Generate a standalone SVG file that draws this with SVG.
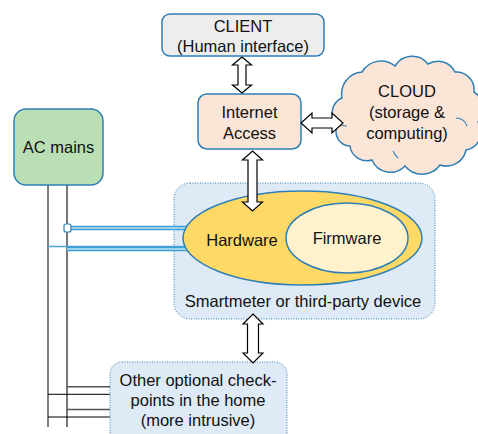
<svg xmlns="http://www.w3.org/2000/svg" width="478" height="434" viewBox="0 0 478 434">
<style>
text{font-family:"Liberation Sans",Arial,sans-serif;font-size:16.5px;fill:#111;text-anchor:middle}
.box{stroke:#2f7fb5;stroke-width:1.5}
.dot{stroke:#2f7fb5;stroke-width:1;stroke-dasharray:1 1.5}
.arr{fill:#fff;stroke:#000;stroke-width:1.2;stroke-linejoin:miter}
.blk{stroke:#000;stroke-width:1;fill:none}
.gry{stroke:#555;stroke-width:1.6;fill:none}
.wire{stroke:#3a9fd6;stroke-width:4.5;fill:none}
.wirein{stroke:#bfe3f5;stroke-width:1.5;fill:none}
</style>
<rect width="478" height="434" fill="#fff"/>

<g id="connectors">
  <line class="blk" x1="48" y1="185" x2="48" y2="427"/>
  <line class="gry" x1="67" y1="185" x2="67" y2="427"/>
  <line class="gry" x1="67" y1="386.7" x2="110" y2="386.7"/>
  <line class="blk" x1="48" y1="394.3" x2="110" y2="394.3"/>
  <line class="gry" x1="67" y1="409.5" x2="110" y2="409.5"/>
  <line class="blk" x1="48" y1="417" x2="110" y2="417"/>
</g>

<g id="smartmeter">
  <rect class="dot" x="174" y="183" width="261" height="136" rx="16" fill="#deebf7"/>
  <text x="303" y="307">Smartmeter or third-party device</text>
</g>

<g id="sensor-wires">
  <line x1="48" y1="246.5" x2="190" y2="246.5" stroke="#4aa8dc" stroke-width="1.5"/>
  <line class="wire" x1="67" y1="249" x2="190" y2="249"/>
  <line class="wirein" x1="67" y1="249" x2="190" y2="249"/>
  <line class="wire" x1="71" y1="228" x2="190" y2="228"/>
  <line class="wirein" x1="71" y1="228" x2="190" y2="228"/>
  <rect x="64" y="224" width="7" height="8" rx="2" fill="#fff" stroke="#2f7fb5" stroke-width="1.2"/>
</g>

<g id="hardware">
  <ellipse class="box" cx="302.5" cy="238" rx="119.5" ry="47" fill="#ffd966"/>
  <text x="242" y="246">Hardware</text>
</g>

<g id="firmware">
  <ellipse class="box" cx="347" cy="238" rx="61" ry="35" fill="#fff2cc"/>
  <text x="347" y="244">Firmware</text>
</g>

<g id="client">
  <rect class="box" x="162" y="14" width="162" height="42" rx="8" fill="#ededed"/>
  <text x="243" y="32">CLIENT</text>
  <text x="243" y="52">(Human interface)</text>
</g>

<g id="internet">
  <rect class="box" x="198" y="94" width="103" height="55" rx="9" fill="#fbe5d6"/>
  <text x="249.5" y="118">Internet</text>
  <text x="249.5" y="139">Access</text>
</g>

<g id="cloud">
  <path class="box" stroke-width="1.3" fill="#fbe5d6" d="M338,125 A16,16 0 0 1 342,98 A22,22 0 0 1 362,72 A22,22 0 0 1 395,66 A20,20 0 0 1 428,64 A19,19 0 0 1 455,72 A18,18 0 0 1 474,92 A20,20 0 0 1 478,122 A18,18 0 0 1 466,150 A20,20 0 0 1 440,165 A22,22 0 0 1 405,166 A20,20 0 0 1 372,160 A17,17 0 0 1 350,146 A14,14 0 0 1 338,125 Z"/>
  <path fill="none" stroke="#2f7fb5" stroke-width="1.1" d="M339,124 A14,14 0 0 0 347,126 M456,118 A12,12 0 0 1 467,126 M398,158 A20,20 0 0 1 393,151"/>
  <text x="407" y="97">CLOUD</text>
  <text x="407" y="118">(storage &amp;</text>
  <text x="407" y="139">computing)</text>
</g>

<g id="ac-mains">
  <rect class="box" x="14" y="109" width="89" height="76" rx="12" fill="#badfb4"/>
  <text x="58.5" y="153">AC mains</text>
</g>

<g id="other">
  <rect class="dot" x="110" y="362" width="177" height="90" rx="12" fill="#deebf7"/>
  <text x="198" y="386">Other optional check-</text>
  <text x="198" y="406">points in the home</text>
  <text x="198" y="426">(more intrusive)</text>
</g>

<g id="arrows">
  <polygon class="arr" points="242,57 251.5,65 246,65 246,85 251.5,85 242,93 232.5,85 238,85 238,65 232.5,65"/>
  <polygon class="arr" points="301,123 312,113 312,118 332,118 332,113 343,123 332,133 332,128 312,128 312,133"/>
  <polygon class="arr" points="252.5,151 262.5,160 257,160 257,202 262.5,202 252.5,211 242.5,202 248,202 248,160 242.5,160"/>
  <polygon class="arr" points="253,314 263,324 258.5,324 258.5,353 263,353 253,363 243,353 247.5,353 247.5,324 243,324"/>
</g>
</svg>
